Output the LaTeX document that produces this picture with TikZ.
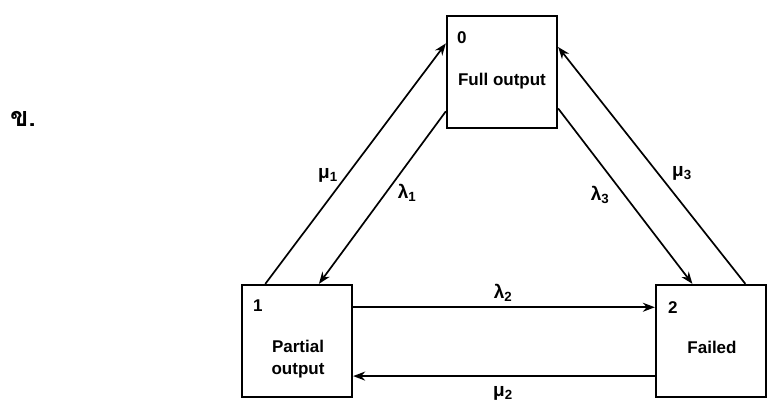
\documentclass[tikz,border=0pt]{standalone}
\usepackage{fontspec}
\setmainfont{Liberation Sans}
\newfontfamily\thaifont[Script=Thai]{Loma}
\usetikzlibrary{arrows.meta}

\begin{document}
\begin{tikzpicture}[x=1pt, y=-1pt, font=\fontsize{17}{20}\selectfont\bfseries]
    \tikzstyle{block} = [rectangle, draw, line width=2.3pt, minimum width=110pt, minimum height=112pt, inner sep=0pt]
    \tikzstyle{arrow} = [line width=1.7pt,->,>={Stealth[length=12pt,width=9pt]}]
    \tikzstyle{rate} = [inner sep=1pt, font=\fontsize{19}{20}\selectfont\bfseries]

    \useasboundingbox (0,0) rectangle (777,418);

    \node [font=\thaifont\bfseries\fontsize{27}{30}\selectfont] (tag) at (23,119) {ข.};

    % states
    \node [block] (full) at (502,72) {};
    \node [block] (partial) at (297,341) {};
    \node [block] (failed) at (711,341) {};

    \node (fullnum) at ([shift={(16,23)}]full.north west) {0};
    \node (partialnum) at ([shift={(17,22)}]partial.north west) {1};
    \node (failednum) at ([shift={(18,24)}]failed.north west) {2};

    \node (fulltxt) at (502,81) {Full output};
    \node [align=center, font=\fontsize{17}{22}\selectfont\bfseries] (partialtxt) at (298,359) {Partial\\output};
    \node (failedtxt) at (712,347) {Failed};

    % transitions
    \draw [arrow] (partial.119.5) -- (full.153);
    \draw [arrow] (full.-145) -- (partial.69.6);
    \draw [arrow] (full.-33) -- (failed.108.6);
    \draw [arrow] (failed.59) -- (full.24.4);
    \draw [arrow] (partial.31) -- (partial.31 -| failed.west);
    \draw [arrow] (failed.-148) -- (failed.-148 -| partial.east);

    \node [rate] (mu1) at (328,175) {μ\textsubscript{1}};
    \node [rate] (lambda1) at (407,193) {λ\textsubscript{1}};
    \node [rate] (lambda3) at (600,195) {λ\textsubscript{3}};
    \node [rate] (mu3) at (682,173) {μ\textsubscript{3}};
    \node [rate] (lambda2) at (503,293) {λ\textsubscript{2}};
    \node [rate] (mu2) at (503,393) {μ\textsubscript{2}};
\end{tikzpicture}
\end{document}
